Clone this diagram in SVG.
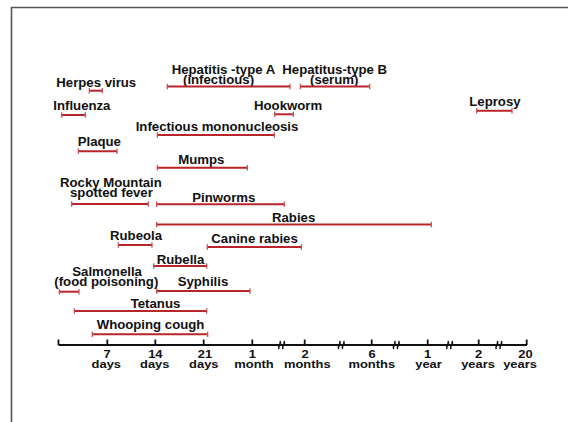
<svg xmlns="http://www.w3.org/2000/svg" width="568" height="422" viewBox="0 0 568 422">
<style>
.lbl{font-family:"Liberation Sans",Arial,sans-serif;font-weight:bold;font-size:13.2px;fill:#111}
.ax{font-family:"Liberation Sans",Arial,sans-serif;font-weight:bold;font-size:12.9px;fill:#111;text-anchor:middle}
.bar{stroke:#b8262b;stroke-width:2;fill:none}
.cap{stroke:#c9484c;stroke-width:1.2;fill:none}
.axis{stroke:#111;stroke-width:1.8;fill:none}
.brk{stroke:#111;stroke-width:1.6;fill:none}
</style>
<rect width="568" height="422" fill="#fff"/>
<path d="M11.5,422 V7.5 H568" stroke="#555" stroke-width="1.6" fill="none"/>
<g id="connectors"></g>
<g id="herpes"><text class="lbl" x="56.3" y="87">Herpes virus</text><path class="bar" d="M89.3,90.7H102.3"/><path class="cap" d="M89.3,88V93.4M102.3,88V93.4"/></g>
<g id="hepA"><text class="lbl" x="171.7" y="73.6">Hepatitis -type A</text><text class="lbl" x="183" y="83.5">(infectious)</text><path class="bar" d="M167.3,86.5H290"/><path class="cap" d="M167.3,83.8V89.2M290,83.8V89.2"/></g>
<g id="hepB"><text class="lbl" x="282.3" y="73.6">Hepatitus-type B</text><text class="lbl" x="310" y="83.5">(serum)</text><path class="bar" d="M300.3,86.5H369.7"/><path class="cap" d="M300.3,83.8V89.2M369.7,83.8V89.2"/></g>
<g id="influenza"><text class="lbl" x="53.3" y="110">Influenza</text><path class="bar" d="M61.7,115H85.3"/><path class="cap" d="M61.7,112.3V117.7M85.3,112.3V117.7"/></g>
<g id="hookworm"><text class="lbl" x="254" y="110">Hookworm</text><path class="bar" d="M274.7,114.3H293.3"/><path class="cap" d="M274.7,111.6V117M293.3,111.6V117"/></g>
<g id="leprosy"><text class="lbl" x="469.3" y="106">Leprosy</text><path class="bar" d="M476.7,110.7H512"/><path class="cap" d="M476.7,108V113.4M512,108V113.4"/></g>
<g id="mono"><text class="lbl" x="135.7" y="131">Infectious mononucleosis</text><path class="bar" d="M157.3,135H274.3"/><path class="cap" d="M157.3,132.3V137.7M274.3,132.3V137.7"/></g>
<g id="plaque"><text class="lbl" x="77.7" y="145.7">Plaque</text><path class="bar" d="M78.3,151.3H117"/><path class="cap" d="M78.3,148.6V154M117,148.6V154"/></g>
<g id="mumps"><text class="lbl" x="178.3" y="164">Mumps</text><path class="bar" d="M157.3,167.7H247.3"/><path class="cap" d="M157.3,165V170.4M247.3,165V170.4"/></g>
<g id="rocky"><text class="lbl" x="60" y="187">Rocky Mountain</text><text class="lbl" x="70" y="196.9">spotted fever</text><path class="bar" d="M71.7,204H148.3"/><path class="cap" d="M71.7,201.3V206.7M148.3,201.3V206.7"/></g>
<g id="pinworms"><text class="lbl" x="192.3" y="201.7">Pinworms</text><path class="bar" d="M156.7,204.3H284.3"/><path class="cap" d="M156.7,201.6V207M284.3,201.6V207"/></g>
<g id="rabies"><text class="lbl" x="272" y="221.7">Rabies</text><path class="bar" d="M156.7,224.5H431.3"/><path class="cap" d="M156.7,221.8V227.2M431.3,221.8V227.2"/></g>
<g id="rubeola"><text class="lbl" x="110" y="240">Rubeola</text><path class="bar" d="M118.3,245H152"/><path class="cap" d="M118.3,242.3V247.7M152,242.3V247.7"/></g>
<g id="canine"><text class="lbl" x="211.3" y="243.3">Canine rabies</text><path class="bar" d="M207.3,247H301.3"/><path class="cap" d="M207.3,244.3V249.7M301.3,244.3V249.7"/></g>
<g id="rubella"><text class="lbl" x="156.7" y="264">Rubella</text><path class="bar" d="M153.7,266H206.7"/><path class="cap" d="M153.7,263.3V268.7M206.7,263.3V268.7"/></g>
<g id="salmonella"><text class="lbl" x="72.3" y="276">Salmonella</text><text class="lbl" x="54.3" y="286">(food poisoning)</text><path class="bar" d="M59.3,291.7H79"/><path class="cap" d="M59.3,289V294.4M79,289V294.4"/></g>
<g id="syphilis"><text class="lbl" x="177.7" y="286">Syphilis</text><path class="bar" d="M156.7,291H250"/><path class="cap" d="M156.7,288.3V293.7M250,288.3V293.7"/></g>
<g id="tetanus"><text class="lbl" x="130.7" y="308">Tetanus</text><path class="bar" d="M74.3,311H206.7"/><path class="cap" d="M74.3,308.3V313.7M206.7,308.3V313.7"/></g>
<g id="whooping"><text class="lbl" x="96.7" y="329.3">Whooping cough</text><path class="bar" d="M92.3,334.3H207.7"/><path class="cap" d="M92.3,331.6V337M207.7,331.6V337"/></g>
<g id="axis">
<path class="axis" d="M58.5,345H527M58.5,339.5V345M107.3,339.5V345M155.3,339.5V345M203.7,339.5V345M252.3,339.5V345M304.7,339.5V345M371.7,339.5V345M427.7,339.5V345M478.7,339.5V345M526.7,339.5V345"/>
<g class="brk">
<path d="M279,349C277,346 282,344 280,341M283,349C281,346 286,344 284,341"/>
<path d="M338.7,349C336.7,346 341.7,344 339.7,341M342.7,349C340.7,346 345.7,344 343.7,341"/>
<path d="M393.7,349C391.7,346 396.7,344 394.7,341M397.7,349C395.7,346 400.7,344 398.7,341"/>
<path d="M447,349C445,346 450,344 448,341M451,349C449,346 454,344 452,341"/>
<path d="M496.3,349C494.3,346 499.3,344 497.3,341M500.3,349C498.3,346 503.3,344 501.3,341"/>
</g>
<g transform="translate(107,357.5) scale(1,0.8)"><text class="ax" x="0" y="0">7</text></g>
<g transform="translate(106.3,367.5) scale(1,0.8)"><text class="ax" x="0" y="0">days</text></g>
<g transform="translate(155.3,357.5) scale(1,0.8)"><text class="ax" x="0" y="0">14</text></g>
<g transform="translate(154.7,367.5) scale(1,0.8)"><text class="ax" x="0" y="0">days</text></g>
<g transform="translate(205,357.5) scale(1,0.8)"><text class="ax" x="0" y="0">21</text></g>
<g transform="translate(203.8,367.5) scale(1,0.8)"><text class="ax" x="0" y="0">days</text></g>
<g transform="translate(252.3,357.5) scale(1,0.8)"><text class="ax" x="0" y="0">1</text></g>
<g transform="translate(254,367.5) scale(1,0.8)"><text class="ax" x="0" y="0">month</text></g>
<g transform="translate(305,357.5) scale(1,0.8)"><text class="ax" x="0" y="0">2</text></g>
<g transform="translate(307.3,367.5) scale(1,0.8)"><text class="ax" x="0" y="0">months</text></g>
<g transform="translate(372,357.5) scale(1,0.8)"><text class="ax" x="0" y="0">6</text></g>
<g transform="translate(371.8,367.5) scale(1,0.8)"><text class="ax" x="0" y="0">months</text></g>
<g transform="translate(427.7,357.5) scale(1,0.8)"><text class="ax" x="0" y="0">1</text></g>
<g transform="translate(428.5,367.5) scale(1,0.8)"><text class="ax" x="0" y="0">year</text></g>
<g transform="translate(478.7,357.5) scale(1,0.8)"><text class="ax" x="0" y="0">2</text></g>
<g transform="translate(478,367.5) scale(1,0.8)"><text class="ax" x="0" y="0">years</text></g>
<g transform="translate(525.5,357.5) scale(1,0.8)"><text class="ax" x="0" y="0">20</text></g>
<g transform="translate(520,367.5) scale(1,0.8)"><text class="ax" x="0" y="0">years</text></g>
</g>
</svg>
